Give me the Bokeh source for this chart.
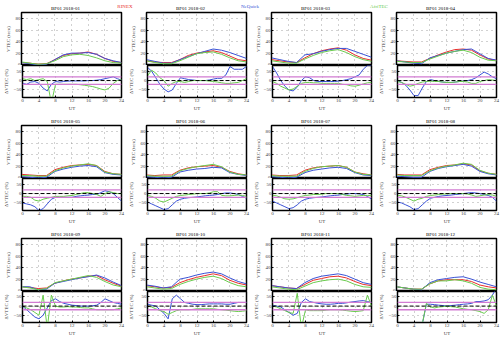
from bokeh.plotting import figure
from bokeh.layouts import column, row
from bokeh.models import Range1d, FixedTicker, Span
from bokeh.core.properties import value
from bokeh.embed import file_html
from bokeh.resources import INLINE

STATION = "BF01"
MONTHS = ["2018-01", "2018-02", "2018-03", "2018-04", "2018-05", "2018-06",
          "2018-07", "2018-08", "2018-09", "2018-10", "2018-11", "2018-12"]
SERIES = ["RINEX", "NeQuick", "AfriTEC"]

UT_VTEC = [0, 2, 4, 6, 8, 10, 12, 14, 16, 18, 20, 22, 24]
UT_DELTA = list(range(0, 25))

# VTEC (TECU) at UT_VTEC, one row per month
RINEX_VTEC = [
    [5, 4, 2, 3, 10, 17, 20, 21, 23, 19, 12, 7, 5],
    [8, 6, 5, 5, 10, 17, 21, 23, 25, 22, 16, 10, 8],
    [10, 8, 6, 5, 13, 20, 25, 28, 30, 26, 18, 12, 9],
    [8, 7, 6, 6, 12, 18, 23, 27, 28, 26, 18, 11, 9],
    [7, 6, 5, 5, 15, 19, 22, 23, 24, 22, 12, 8, 7],
    [6, 5, 6, 6, 14, 18, 20, 21, 22, 19, 12, 8, 6],
    [6, 5, 5, 6, 14, 18, 20, 21, 22, 19, 11, 8, 6],
    [7, 6, 6, 6, 15, 19, 22, 23, 25, 23, 13, 9, 7],
    [8, 7, 5, 6, 14, 18, 21, 23, 26, 27, 20, 14, 9],
    [10, 8, 6, 7, 15, 20, 24, 27, 30, 27, 19, 14, 11],
    [10, 8, 6, 5, 12, 19, 22, 25, 26, 23, 17, 12, 10],
    [8, 6, 4, 4, 13, 18, 20, 20, 20, 17, 11, 8, 6],
]
NEQUICK_VTEC = [
    [5, 3, 1, 2, 10, 18, 21, 21, 22, 19, 12, 8, 5],
    [10, 7, 4, 4, 10, 15, 20, 24, 28, 26, 22, 17, 12],
    [13, 10, 7, 5, 18, 20, 24, 27, 29, 29, 24, 19, 14],
    [8, 6, 4, 3, 13, 17, 21, 24, 27, 28, 20, 12, 9],
    [3, 2, 1, 2, 12, 16, 19, 21, 22, 20, 10, 7, 6],
    [3, 2, 1, 2, 11, 14, 16, 17, 19, 18, 10, 7, 5],
    [3, 2, 1, 2, 10, 14, 16, 18, 19, 17, 10, 6, 5],
    [4, 3, 2, 2, 12, 17, 20, 22, 24, 21, 12, 8, 6],
    [8, 8, 3, 4, 14, 17, 20, 23, 25, 28, 23, 16, 10],
    [11, 9, 6, 8, 21, 24, 28, 31, 33, 30, 23, 17, 13],
    [10, 8, 6, 5, 15, 22, 26, 28, 30, 27, 21, 15, 12],
    [8, 6, 4, 3, 15, 20, 22, 24, 25, 21, 16, 12, 8],
]
AFRITEC_VTEC = [
    [6, 4, 2, 3, 8, 15, 18, 19, 17, 13, 8, 5, 4],
    [8, 5, 3, 3, 8, 14, 20, 22, 23, 19, 13, 8, 6],
    [8, 6, 4, 4, 11, 17, 22, 25, 27, 22, 15, 10, 7],
    [7, 6, 5, 5, 11, 16, 21, 24, 26, 22, 14, 9, 8],
    [5, 5, 4, 4, 13, 18, 21, 23, 25, 22, 11, 8, 7],
    [5, 4, 4, 4, 13, 17, 20, 22, 24, 20, 11, 7, 6],
    [5, 4, 4, 4, 12, 17, 20, 21, 22, 19, 11, 7, 6],
    [6, 5, 5, 5, 13, 18, 21, 23, 26, 24, 14, 9, 7],
    [8, 6, 3, 5, 15, 18, 21, 24, 27, 24, 17, 11, 8],
    [8, 6, 4, 5, 12, 17, 21, 24, 26, 22, 15, 10, 8],
    [8, 6, 4, 3, 9, 15, 18, 20, 21, 18, 12, 8, 7],
    [8, 6, 4, 4, 13, 18, 18, 20, 18, 14, 7, 4, 3],
]

# Delta VTEC (%) at UT_DELTA, one row per month
NEQUICK_DELTA = [
    [-15, -20, -8, -5, -15, -40, -55, -20, -5, -8, -5, -3, -2, -2, -2, -2, 0, 0, 2, 5, 10, 15, 20, 10, 2],
    [70, 50, 15, -20, -45, -60, -50, -15, 15, 10, 5, 3, 0, 0, 0, 3, 8, 12, 12, 30, 75, 60, 60, 60, 75],
    [75, 40, 0, -30, -50, -55, -35, 0, 20, 15, 0, -5, -5, -5, -5, -5, -3, 0, 5, 10, 20, 30, 60, 80, 80],
    [0, -10, -25, -50, -80, -80, -40, -5, 5, 0, -5, -8, -10, -10, -8, -5, -3, 0, 5, 15, 30, 45, 35, 20, 10],
    [-50, -55, -60, -70, -90, -80, -55, -30, -20, -20, -20, -20, -20, -15, -12, -10, -8, -5, -5, 5, 15, 10, 0, -20, -40],
    [-45, -55, -65, -75, -85, -80, -60, -40, -30, -25, -22, -20, -18, -15, -12, -10, -8, -5, 0, 3, 3, 0, -5, -15, -25],
    [-40, -50, -60, -70, -80, -75, -60, -40, -30, -25, -22, -20, -18, -15, -12, -10, -8, -5, -3, 0, 0, -2, -5, -15, -30],
    [-45, -50, -60, -70, -85, -80, -60, -40, -25, -20, -15, -12, -10, -8, -5, -3, 0, 3, 5, 3, 0, -5, -10, -20, -40],
    [0, -20, -40, -60, -70, -50, -10, 30, 40, 25, 15, 10, 5, 3, 0, 0, 0, 2, 5, 20, 40, 30, 20, 15, 10],
    [10, 5, 0, -20, -40, -70, 40, 60, 40, 20, 15, 10, 8, 8, 10, 12, 12, 12, 12, 10, 10, 15, 20, 20, 20],
    [5, 0, -5, -20, -35, -50, -40, 20, 40, 25, 20, 15, 12, 10, 10, 12, 15, 15, 18, 22, 25, 28, 30, 25, 20],
    [-100, -100, -100, -100, -100, -100, -100, 10, 10, 8, 5, 3, 0, 3, 5, 8, 10, 12, 15, 25, 25, 28, 35, 60, 100],
]
AFRITEC_DELTA = [
    [10, 5, 10, 0, 5, 10, -5, -120, -20, -20, -20, -20, -20, -20, -22, -25, -28, -32, -38, -45, -50, -40, -15, 0, 5],
    [25, 55, 40, 15, 0, -30, -15, -5, -5, -10, -5, 0, 0, 0, 0, -3, -5, -8, -12, -15, -15, -12, -10, 0, 10],
    [-5, -15, -30, -40, -50, -45, -30, -15, -10, -10, -12, -12, -15, -15, -15, -15, -15, -20, -22, -28, -30, -25, -18, -12, -10],
    [-5, -10, -20, -30, -25, -15, -8, -5, -3, -5, -5, -8, -10, -10, -8, -5, -5, -8, -15, -15, -5, 0, 5, 3, 0],
    [-15, -15, -20, -35, -40, -30, -25, -20, -15, -15, -15, -12, -10, -5, 0, 5, 5, 0, -5, -15, 0, 10, 5, 0, 0],
    [-10, -15, -25, -40, -45, -35, -25, -15, -10, -8, -5, -3, 0, 0, 0, 3, 10, 10, -10, -12, -12, -10, -8, -10, -15],
    [-10, -12, -20, -28, -30, -28, -22, -15, -10, -8, -5, -5, -3, 0, 0, 0, 0, -5, -10, -12, -15, -12, -10, -10, -10],
    [-10, -12, -20, -30, -40, -30, -25, -15, -10, -8, -5, -3, -2, 0, 0, 0, 0, -3, -8, -15, -12, -8, -5, -8, -15],
    [0, -10, -20, -35, -50, 60, -120, 60, 0, -5, -5, -3, -5, -5, -8, -10, -10, -15, -20, -20, -20, -20, -20, -15, -10],
    [0, -5, -15, -25, -30, -45, -35, -25, -20, -20, -20, -18, -15, -15, -15, -15, -15, -18, -20, -22, -25, -28, -30, -28, -25],
    [0, -5, -15, -25, -35, -40, 70, -120, -20, -25, -25, -25, -25, -22, -20, -20, -20, -22, -25, -28, -30, -28, -25, 60, 0],
    [-100, -100, -100, -100, -100, -100, -100, 15, -5, -10, -5, -3, 0, -3, -5, -10, -15, -18, -20, -25, -30, -40, -20, 60, 0],
]

X_TICKS = [0, 4, 8, 12, 16, 20, 24]
VTEC_TICKS = [0, 20, 40, 60, 80]
DELTA_TICKS = [-50, 0, 50]
DELTA_BAND = [-20, 20]

FONT = "Liberation Serif"
FS = "5px"
RED = "#e8302c"
BLUE = "#3a52d6"
GREEN = "#6acb4e"
MAG = "#d27bd2"
GRID = "#8c8c8c"
SERIES_COLORS = [RED, BLUE, GREEN]

W = 500
COL_W = 125
LEFT_B = 21
RIGHT_B = 4
HEAD_H = 10
TOP_H = 55
BOT_H = [48, 48, 47]


def base_style(p):
    p.outline_line_color = "black"
    p.outline_line_width = 1.5
    p.background_fill_color = "white"
    p.border_fill_color = "white"
    p.xgrid.ticker = FixedTicker(ticks=X_TICKS)
    for g in (p.xgrid, p.ygrid):
        g.grid_line_color = GRID
        g.grid_line_dash = "1 4"
        g.grid_line_width = 0.8
    for ax in (p.xaxis[0], p.yaxis[0]):
        ax.axis_line_color = "black"
        ax.major_tick_in = 2
        ax.major_tick_out = 0
        ax.minor_tick_line_color = None
        ax.major_label_text_font = FONT
        ax.major_label_text_font_size = FS
        ax.major_label_standoff = 1
        ax.axis_label_text_font = FONT
        ax.axis_label_text_font_size = FS
        ax.axis_label_text_font_style = "normal"
        ax.axis_label_standoff = 2


def header(r):
    h = figure(width=W, height=HEAD_H, x_range=Range1d(0, W), y_range=Range1d(0, HEAD_H),
               min_border=0, output_backend="svg", toolbar_location=None, tools="")
    h.axis.visible = False
    h.grid.visible = False
    h.outline_line_color = None
    h.background_fill_color = "white"
    h.border_fill_color = "white"
    xs = [COL_W * c + LEFT_B + 44 for c in range(4)]
    titles = [f"{STATION} {MONTHS[r * 4 + c]}" for c in range(4)]
    h.text(x=xs, y=[2] * 4, text=titles, text_align="center", text_baseline="bottom",
           text_font=value(FONT), text_font_size=value(FS), text_color="black")
    if r == 0:
        lx = [COL_W * 1 - 0.5, COL_W * 2 - 0.5, COL_W * 3 + 3.5]
        h.text(x=lx, y=[4] * 3, text=SERIES, text_align="center", text_baseline="bottom",
               text_font=value(FONT), text_font_size=value(FS), text_color=SERIES_COLORS)
    return h


children = []
for r in range(3):
    top_row, bot_row = [], []
    for c in range(4):
        m = r * 4 + c
        # ---- VTEC panel
        p = figure(width=COL_W, height=TOP_H, x_range=Range1d(0, 24), y_range=Range1d(0, 90),
                   min_border_left=LEFT_B, min_border_right=RIGHT_B, min_border_top=2,
                   min_border_bottom=0, output_backend="svg", toolbar_location=None, tools="")
        base_style(p)
        p.xaxis.visible = False
        p.yaxis.ticker = FixedTicker(ticks=VTEC_TICKS)
        p.ygrid.ticker = FixedTicker(ticks=VTEC_TICKS)
        p.yaxis.axis_label = "VTEC (tecu)"
        p.line(UT_VTEC, RINEX_VTEC[m], color=RED, line_width=1)
        p.line(UT_VTEC, NEQUICK_VTEC[m], color=BLUE, line_width=1)
        p.line(UT_VTEC, AFRITEC_VTEC[m], color=GREEN, line_width=1)
        top_row.append(p)

        # ---- Delta VTEC panel
        q = figure(width=COL_W, height=BOT_H[r], x_range=Range1d(0, 24), y_range=Range1d(-90, 80),
                   min_border_left=LEFT_B, min_border_right=RIGHT_B, min_border_top=0,
                   min_border_bottom=16, output_backend="svg", toolbar_location=None, tools="")
        base_style(q)
        q.xaxis.ticker = FixedTicker(ticks=X_TICKS)
        q.xaxis.axis_label = "UT"
        q.xaxis.axis_label_standoff = 1
        q.yaxis.ticker = FixedTicker(ticks=DELTA_TICKS)
        q.ygrid.ticker = FixedTicker(ticks=DELTA_TICKS)
        q.yaxis.axis_label = "ΔVTEC (%)"
        for b in DELTA_BAND:
            q.add_layout(Span(location=b, dimension="width", line_color=MAG, line_width=1.3))
        q.add_layout(Span(location=0, dimension="width", line_color="black",
                          line_width=1, line_dash="4 2"))
        q.line(UT_DELTA, NEQUICK_DELTA[m], color=BLUE, line_width=1)
        q.line(UT_DELTA, AFRITEC_DELTA[m], color=GREEN, line_width=1)
        bot_row.append(q)
    children.append(header(r))
    children.append(row(top_row))
    children.append(row(bot_row))

layout = column(children)

open("out.html", "w").write(file_html(layout, INLINE))
